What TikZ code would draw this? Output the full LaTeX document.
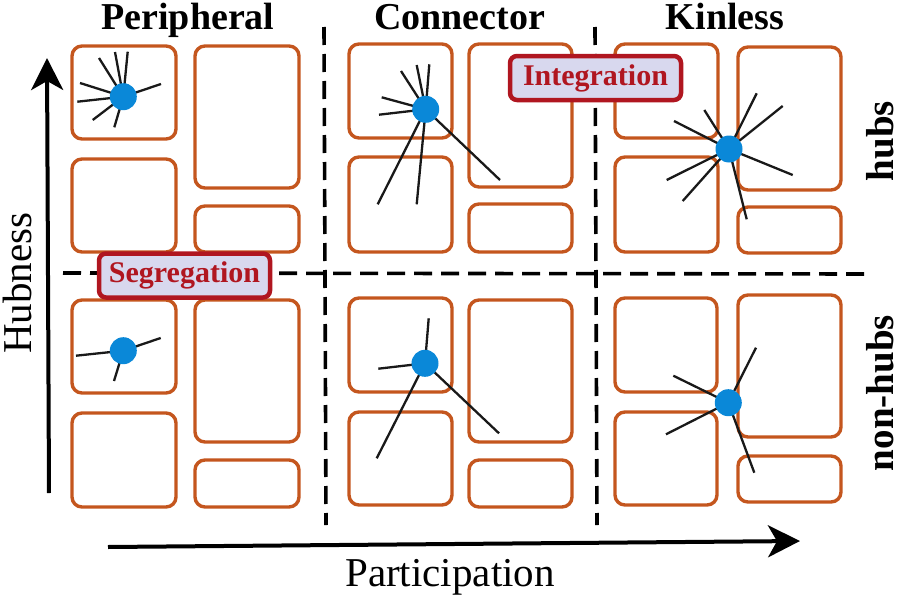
\documentclass[tikz,border=0pt]{standalone}
\usepackage{fontspec}
\setmainfont{Liberation Serif}
\usetikzlibrary{arrows.meta}
\definecolor{boxorange}{RGB}{196,86,30}
\definecolor{hubblue}{RGB}{10,136,216}
\definecolor{tagred}{RGB}{176,22,32}
\definecolor{taglav}{RGB}{216,216,238}
\tikzset{
  cell/.style={draw=boxorange, line width=3.4pt, rounded corners=10pt},
  hubdot/.style={circle, fill=hubblue, inner sep=0pt, minimum size=27pt},
  spoke/.style={line width=2.3pt, black!90},
  divider/.style={line width=3.6pt, dash pattern=on 18pt off 9pt},
  axisarrow/.style={line width=4pt, -{Stealth[length=32pt,width=32pt,inset=9pt]}},
  title/.style={font=\fontsize{38}{42}\selectfont\bfseries, inner sep=0pt},
  axislabel/.style={font=\fontsize{41}{44}\selectfont, inner sep=0pt},
  rowlabel/.style={font=\fontsize{39}{43}\selectfont\bfseries, inner sep=0pt, rotate=90},
  tag/.style={draw=tagred, line width=4.5pt, fill=taglav, rounded corners=7pt,
    text=tagred, font=\fontsize{30}{33}\selectfont\bfseries,
    minimum width=171pt, minimum height=44pt, inner sep=0pt},
}
\begin{document}
\begin{tikzpicture}[x=1pt,y=-1pt]
\useasboundingbox (0,0) rectangle (900,597);
% cells
\foreach \xa/\ya/\xb/\yb in {
  72/46/176/139, 195/46/299/188, 72/159/176/252, 195/206/299/252,
  349/44/452/138, 469/44/572/187, 349/157/452/252, 469/204/572/252,
  615/44/718/138, 738/47/841/190, 615/157/718/252, 738/207/841/253,
  72/300/176/393, 195/300/299/442, 72/413/176/507, 195/460/299/507,
  349/298/452/392, 469/300/572/442, 349/412/452/505, 469/460/572/507,
  615/298/717/392, 738/295/841/437, 615/412/717/505, 738/456/841/502}
  \draw[cell] (\xa,\ya) rectangle (\xb,\yb);
% dividers
\coordinate (v1t) at (324,27); \coordinate (v1b) at (326,525);
\coordinate (v2t) at (595,27); \coordinate (v2b) at (597,525);
\coordinate (hl) at (63,273); \coordinate (hr) at (868,274);
\draw[divider] (v1t) -- (v1b);
\draw[divider] (v2t) -- (v2b);
\draw[divider] (hl) -- (hr);
% hubs
\coordinate (h1) at (123.3,96.7);
\coordinate (h2) at (425.7,109.3);
\coordinate (h3) at (729,149);
\coordinate (h4) at (123.3,350.7);
\coordinate (h5) at (425,363.3);
\coordinate (h6) at (728.3,402.7);
\foreach \p in {(115,52),(127.7,51.7),(99,58),(80,83),(77.3,101.7),(92.7,120),(114.3,127.3),(161,84)}
  \draw[spoke] (h1) -- \p;
\foreach \p in {(416.7,65),(429.3,64.3),(401,71),(381.7,97.3),(379,114.7),(377.7,204.3),(416.7,204.3),(500,180)}
  \draw[spoke] (h2) -- \p;
\foreach \p in {(674,121),(704.3,110),(756.7,93.3),(782.7,106),(792.7,175),(746.7,219.3),(682.7,201),(666.7,180)}
  \draw[spoke] (h3) -- \p;
\foreach \p in {(76,355.7),(160.7,338),(114,381)}
  \draw[spoke] (h4) -- \p;
\foreach \p in {(428.7,318.3),(378.3,368.7),(376.7,458.3),(499,433.3)}
  \draw[spoke] (h5) -- \p;
\foreach \p in {(673.3,375.7),(756,347.7),(666,434.3),(754.3,472.7)}
  \draw[spoke] (h6) -- \p;
\foreach \h in {h1,h2,h3,h4,h5,h6}
  \node[hubdot] at (\h) {};
% tags
\node[tag] (integ) at (595.5,78) {Integration};
\node[tag] (segr) at (184.5,275.5) {Segregation};
% titles
\node[title, anchor=base] (tp) at (188,29) {Peripheral};
\node[title, anchor=base] (tc) at (459.5,29) {Connector};
\node[title, anchor=base] (tk) at (725,29) {Kinless};
\node[rowlabel] (rh) at (880,141) {hubs};
\node[rowlabel] (rn) at (880,393) {non-hubs};
% axes
\coordinate (ya) at (49,493); \coordinate (yb) at (47,58);
\coordinate (xa) at (108,547); \coordinate (xb) at (800,541);
\draw[axisarrow] (ya) -- (yb);
\draw[axisarrow] (xa) -- (xb);
\node[axislabel, rotate=90] (lh) at (17,283) {Hubness};
\node[axislabel, anchor=base] (lp) at (450,586) {Participation};
\end{tikzpicture}
\end{document}
